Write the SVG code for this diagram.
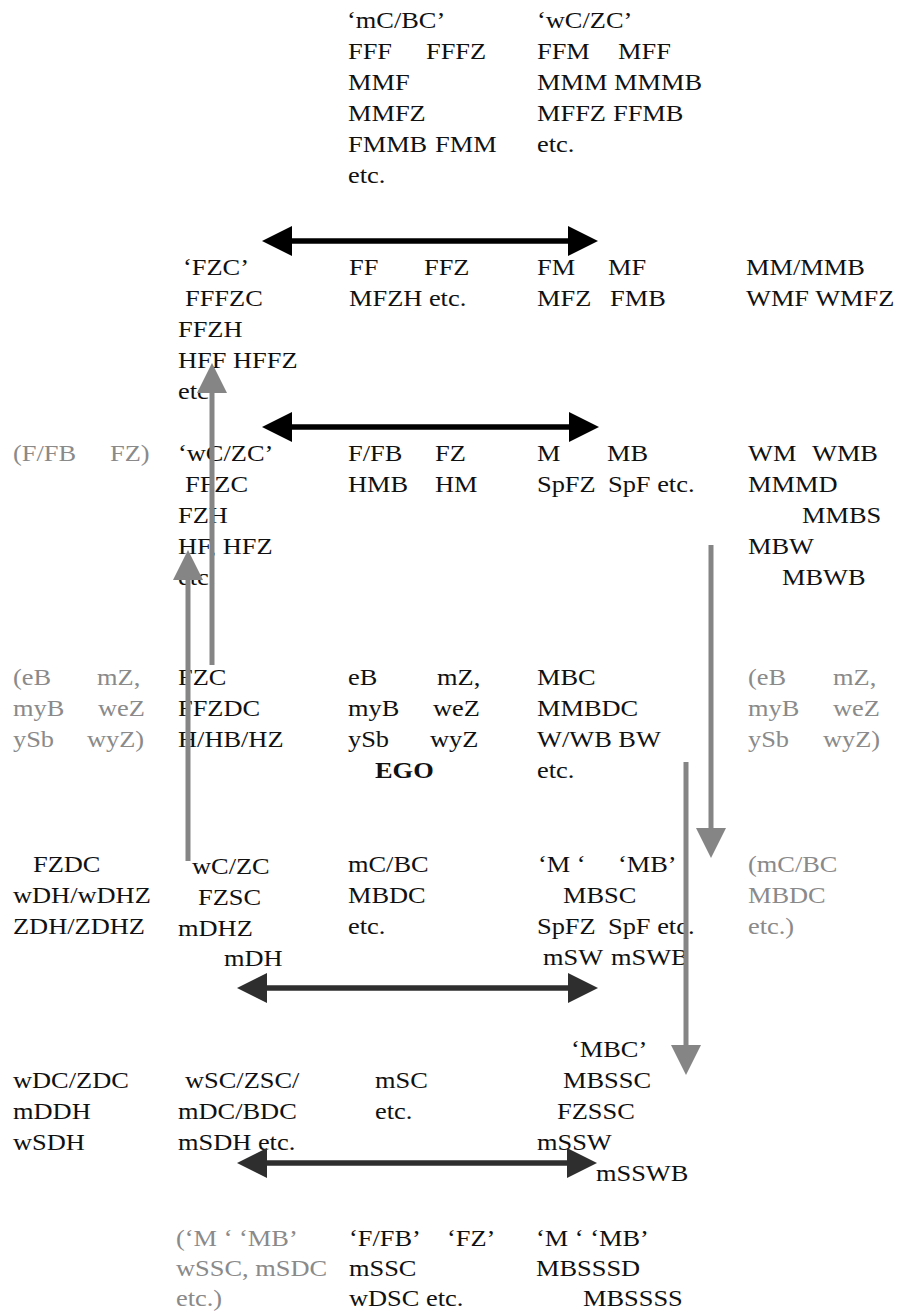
<svg xmlns="http://www.w3.org/2000/svg" width="904" height="1312" viewBox="0 0 904 1312">
<style>
text{font-family:'Liberation Serif','Times New Roman',serif;font-size:24px;fill:#111}
.g{fill:#8a8a8a}
.b{font-weight:bold}
.k{stroke:#000;stroke-width:5.5;fill:none}
.d{stroke:#2e2e2e;stroke-width:5.5;fill:none}
.gr{stroke:#858585;stroke-width:5;fill:none}
</style>
<defs>
<marker id="hk" markerUnits="userSpaceOnUse" markerWidth="30" markerHeight="30" viewBox="0 0 30 30" refX="0" refY="15" orient="auto-start-reverse"><path d="M0,0 L30,15 L0,30 z" fill="#000"/></marker>
<marker id="hd" markerUnits="userSpaceOnUse" markerWidth="30" markerHeight="30" viewBox="0 0 30 30" refX="0" refY="15" orient="auto-start-reverse"><path d="M0,0 L30,15 L0,30 z" fill="#2e2e2e"/></marker>
<marker id="hg" markerUnits="userSpaceOnUse" markerWidth="30" markerHeight="30" viewBox="0 0 30 30" refX="0" refY="15" orient="auto"><path d="M0,0 L30,15 L0,30 z" fill="#858585"/></marker>
</defs>
<rect width="904" height="1312" fill="#fff"/>
<g transform="scale(1.1 1)">
<g id="top-m"><text x="315.45" y="28">‘mC/BC’</text><text x="316.36" y="59">FFF</text><text x="387.27" y="59">FFFZ</text><text x="316.36" y="90">MMF</text><text x="316.36" y="121">MMFZ</text><text x="316.36" y="152">FMMB</text><text x="395.45" y="152">FMM</text><text x="316.36" y="183">etc.</text></g>
<g id="top-w"><text x="488.18" y="28">‘wC/ZC’</text><text x="488.18" y="59">FFM</text><text x="561.82" y="59">MFF</text><text x="488.18" y="90">MMM</text><text x="558.18" y="90">MMMB</text><text x="488.18" y="121">MFFZ</text><text x="557.27" y="121">FFMB</text><text x="488.18" y="152">etc.</text></g>

<g id="r2-fzc"><text x="166.36" y="275">‘FZC’</text><text x="168.18" y="306">FFFZC</text><text x="161.82" y="337">FFZH</text><text x="161.82" y="368">HFF HFFZ</text><text x="161.82" y="399">etc.</text></g>
<g id="r2-ff"><text x="317.27" y="275">FF</text><text x="385.45" y="275">FFZ</text><text x="317.27" y="306">MFZH etc.</text></g>
<g id="r2-fm"><text x="488.18" y="275">FM</text><text x="552.73" y="275">MF</text><text x="488.18" y="306">MFZ</text><text x="554.55" y="306">FMB</text></g>
<g id="r2-mm"><text x="678.18" y="275">MM/MMB</text><text x="678.18" y="306">WMF WMFZ</text></g>

<g id="r3-gray"><text class="g" x="11.82" y="461">(F/FB</text><text class="g" x="100" y="461">FZ)</text></g>
<g id="r3-wc"><text x="161.82" y="461">‘wC/ZC’</text><text x="168.18" y="492">FFZC</text><text x="161.82" y="523">FZH</text><text x="161.82" y="554">HF, HFZ</text><text x="161.82" y="585">etc.</text></g>
<g id="r3-f"><text x="316.36" y="461">F/FB</text><text x="395.45" y="461">FZ</text><text x="316.36" y="492">HMB</text><text x="395.45" y="492">HM</text></g>
<g id="r3-m"><text x="488.18" y="461">M</text><text x="551.82" y="461">MB</text><text x="488.18" y="492">SpFZ</text><text x="552.73" y="492">SpF etc.</text></g>
<g id="r3-wm"><text x="680" y="461">WM</text><text x="738.18" y="461">WMB</text><text x="680" y="492">MMMD</text><text x="729.09" y="523">MMBS</text><text x="680" y="554">MBW</text><text x="710.91" y="585">MBWB</text></g>

<g id="r4-gray-l"><text class="g" x="11.82" y="685">(eB</text><text class="g" x="88.18" y="685">mZ,</text><text class="g" x="11.82" y="716">myB</text><text class="g" x="89.09" y="716">weZ</text><text class="g" x="11.82" y="747">ySb</text><text class="g" x="79.09" y="747">wyZ)</text></g>
<g id="r4-fzc"><text x="161.82" y="685">FZC</text><text x="161.82" y="716">FFZDC</text><text x="161.82" y="747">H/HB/HZ</text></g>
<g id="r4-ego"><text x="316.36" y="685">eB</text><text x="397.27" y="685">mZ,</text><text x="316.36" y="716">myB</text><text x="393.64" y="716">weZ</text><text x="316.36" y="747">ySb</text><text x="390.91" y="747">wyZ</text><text class="b" x="340.91" y="778">EGO</text></g>
<g id="r4-mbc"><text x="488.18" y="685">MBC</text><text x="488.18" y="716">MMBDC</text><text x="488.18" y="747">W/WB BW</text><text x="488.18" y="778">etc.</text></g>
<g id="r4-gray-r"><text class="g" x="680" y="685">(eB</text><text class="g" x="757.27" y="685">mZ,</text><text class="g" x="680" y="716">myB</text><text class="g" x="757.27" y="716">weZ</text><text class="g" x="680" y="747">ySb</text><text class="g" x="748.18" y="747">wyZ)</text></g>

<g id="r5-fzdc"><text x="30" y="872">FZDC</text><text x="11.82" y="903">wDH/wDHZ</text><text x="11.82" y="934">ZDH/ZDHZ</text></g>
<g id="r5-wc"><text x="174.55" y="874">wC/ZC</text><text x="180" y="905">FZSC</text><text x="161.82" y="936">mDHZ</text><text x="203.64" y="966">mDH</text></g>
<g id="r5-mc"><text x="316.36" y="872">mC/BC</text><text x="316.36" y="903">MBDC</text><text x="316.36" y="934">etc.</text></g>
<g id="r5-m"><text x="489.09" y="872">‘M ‘</text><text x="561.82" y="872">‘MB’</text><text x="511.82" y="903">MBSC</text><text x="488.18" y="934">SpFZ</text><text x="552.73" y="934">SpF etc.</text><text x="493.64" y="965">mSW</text><text x="555.45" y="965">mSWB</text></g>
<g id="r5-gray"><text class="g" x="680" y="872">(mC/BC</text><text class="g" x="680" y="903">MBDC</text><text class="g" x="680" y="934">etc.)</text></g>

<g id="r6-wdc"><text x="11.82" y="1088">wDC/ZDC</text><text x="11.82" y="1119">mDDH</text><text x="11.82" y="1150">wSDH</text></g>
<g id="r6-wsc"><text x="168.18" y="1088">wSC/ZSC/</text><text x="161.82" y="1119">mDC/BDC</text><text x="161.82" y="1150">mSDH etc.</text></g>
<g id="r6-msc"><text x="340.91" y="1088">mSC</text><text x="340.91" y="1119">etc.</text></g>
<g id="r6-mbc"><text x="519.09" y="1057">‘MBC’</text><text x="511.82" y="1088">MBSSC</text><text x="506.36" y="1119">FZSSC</text><text x="488.18" y="1150">mSSW</text><text x="541.82" y="1181">mSSWB</text></g>

<g id="r7-gray"><text class="g" x="160" y="1246">(‘M ‘ ‘MB’</text><text class="g" x="160" y="1276">wSSC, mSDC</text><text class="g" x="160" y="1306">etc.)</text></g>
<g id="r7-f"><text x="317.27" y="1246">‘F/FB’</text><text x="406.36" y="1246">‘FZ’</text><text x="317.27" y="1276">mSSC</text><text x="317.27" y="1306">wDSC etc.</text></g>
<g id="r7-m"><text x="487.27" y="1246">‘M ‘ ‘MB’</text><text x="487.27" y="1276">MBSSSD</text><text x="530" y="1306">MBSSSS</text></g>
</g>
<g id="connectors">
<line class="k" x1="292" y1="241" x2="568" y2="241" marker-start="url(#hk)" marker-end="url(#hk)"/>
<line class="k" x1="292" y1="427" x2="569" y2="427" marker-start="url(#hk)" marker-end="url(#hk)"/>
<line class="d" x1="267" y1="988" x2="568" y2="988" marker-start="url(#hd)" marker-end="url(#hd)"/>
<line class="d" x1="267" y1="1163" x2="567" y2="1163" marker-start="url(#hd)" marker-end="url(#hd)"/>
<line class="gr" x1="212" y1="665" x2="212" y2="393" marker-end="url(#hg)"/>
<line class="gr" x1="188" y1="861" x2="188" y2="580" marker-end="url(#hg)"/>
<line class="gr" x1="711" y1="545" x2="711" y2="828" marker-end="url(#hg)"/>
<line class="gr" x1="686" y1="762" x2="686" y2="1045" marker-end="url(#hg)"/>
</g>
</svg>
